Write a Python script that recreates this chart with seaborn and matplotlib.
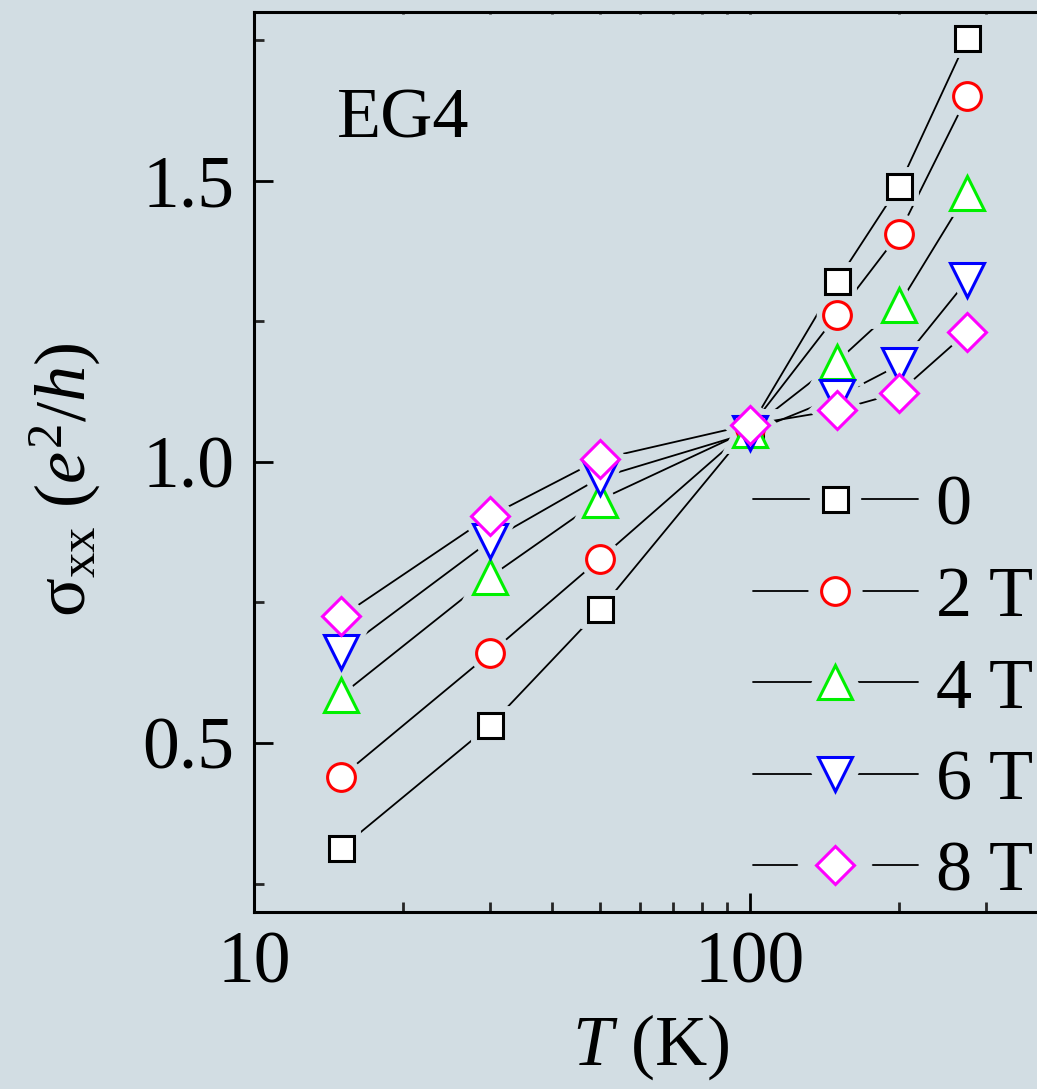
import numpy as np
import pandas as pd
import matplotlib
matplotlib.use("Agg")
import matplotlib.pyplot as plt
import seaborn as sns
from matplotlib.lines import Line2D
from matplotlib.ticker import FixedLocator, NullFormatter, LogLocator, MultipleLocator, FormatStrFormatter

# ---- data ----
temps = [15, 30, 50, 100, 150, 200, 275]
sig_0T = [0.313, 0.532, 0.738, 1.060, 1.321, 1.490, 1.753]
sig_2T = [0.440, 0.660, 0.828, 1.060, 1.261, 1.405, 1.650]
sig_4T = [0.585, 0.796, 0.933, 1.057, 1.178, 1.279, 1.478]
sig_6T = [0.662, 0.860, 0.972, 1.052, 1.115, 1.172, 1.323]
sig_8T = [0.725, 0.904, 1.005, 1.066, 1.092, 1.123, 1.231]
labels = ["0", "2 T", "4 T", "6 T", "8 T"]
colors = ["#000000", "#ff0000", "#00f000", "#0000ff", "#ff00ff"]
markers = ["s", "o", "^", "v", "D"]
msizes = [18, 20, 24, 24, 19]
series = [sig_0T, sig_2T, sig_4T, sig_6T, sig_8T]

BG = "#d2dde3"

sns.set_theme(style="ticks")
plt.rcParams["font.family"] = ["Liberation Serif", "DejaVu Serif"]
plt.rcParams["mathtext.fontset"] = "custom"
plt.rcParams["mathtext.rm"] = "Liberation Serif"
plt.rcParams["mathtext.it"] = "Liberation Serif:italic"
plt.rcParams["text.color"] = "black"
plt.rcParams["axes.labelcolor"] = "black"

df = pd.DataFrame({
    "T": np.tile(temps, len(series)),
    "sigma": np.concatenate(series),
    "field": np.repeat(labels, len(temps)),
})

fig = plt.figure(figsize=(10.37, 10.89), dpi=100, facecolor=BG)
ax = fig.add_axes([254 / 1037, 1 - 911.7 / 1089, (1048 - 254) / 1037, (911.7 - 12) / 1089])
ax.set_facecolor(BG)

sns.lineplot(data=df, x="T", y="sigma", units="field", estimator=None,
             color="black", lw=1.3, ax=ax, legend=False, zorder=2)

# halos (gap around markers)
for s, m, ms in zip(series, markers, msizes):
    ax.plot(temps, s, ls="none", marker=m, ms=ms, mfc=BG, mec=BG, mew=10, zorder=3)
# markers
for s, m, ms, c in zip(series, markers, msizes, colors):
    ax.plot(temps, s, ls="none", marker=m, ms=ms, mfc="white", mec=c, mew=2.2, zorder=4)

ax.set_xscale("log")
ax.set_xlim(10, 400)
ax.set_ylim(0.2, 1.8)
ax.xaxis.set_major_locator(FixedLocator([10, 100]))
ax.xaxis.set_major_formatter(FormatStrFormatter("%d"))
ax.xaxis.set_minor_locator(LogLocator(base=10, subs=np.arange(2, 10)))
ax.xaxis.set_minor_formatter(NullFormatter())
ax.yaxis.set_major_locator(MultipleLocator(0.5))
ax.yaxis.set_major_formatter(FormatStrFormatter("%.1f"))
ax.yaxis.set_minor_locator(MultipleLocator(0.25))

for sp in ["left", "bottom", "top"]:
    ax.spines[sp].set_linewidth(2.2)
    ax.spines[sp].set_color("black")
ax.spines["right"].set_visible(False)

ax.tick_params(which="major", direction="in", length=14, width=2.0, labelsize=53,
               colors="black", pad=14)
ax.tick_params(which="minor", direction="in", length=7, width=2.0)
ax.tick_params(axis="x", which="both", top=True, labeltop=False)
for t in ax.xaxis.get_major_ticks() + ax.xaxis.get_minor_ticks():
    t.tick2line.set_markersize(1.5)

ax.set_xlabel("$T$ (K)", fontsize=52, labelpad=10, color="black")
ax.set_ylabel("σ$_{\\mathrm{xx}}$ ($e^2$/$h$)", fontsize=52, color="black")
ax.yaxis.set_label_coords(-0.19, 0.48)

ax.text(337 / 1037, 1 - 137 / 1089, "EG4", transform=fig.transFigure,
        fontsize=52, ha="left", va="baseline", color="black")

handles = []
for m, ms, c in zip(markers, msizes, colors):
    ln = Line2D([], [], color="black", lw=1.3)
    halo = Line2D([], [], ls="none", marker=m, ms=ms, mfc=BG, mec=BG, mew=19)
    mk = Line2D([], [], ls="none", marker=m, ms=ms, mfc="white", mec=c, mew=2.2)
    handles.append((ln, halo, mk))
leg = ax.legend(handles, labels, loc="upper left", bbox_to_anchor=(753 / 1037, 1 - 474 / 1089),
                bbox_transform=fig.transFigure, frameon=False, fontsize=52,
                handlelength=2.28, handletextpad=0.25, labelspacing=0.36,
                borderaxespad=0, borderpad=0, labelcolor="black")

fig.savefig("out.png", dpi=100, facecolor=BG)
